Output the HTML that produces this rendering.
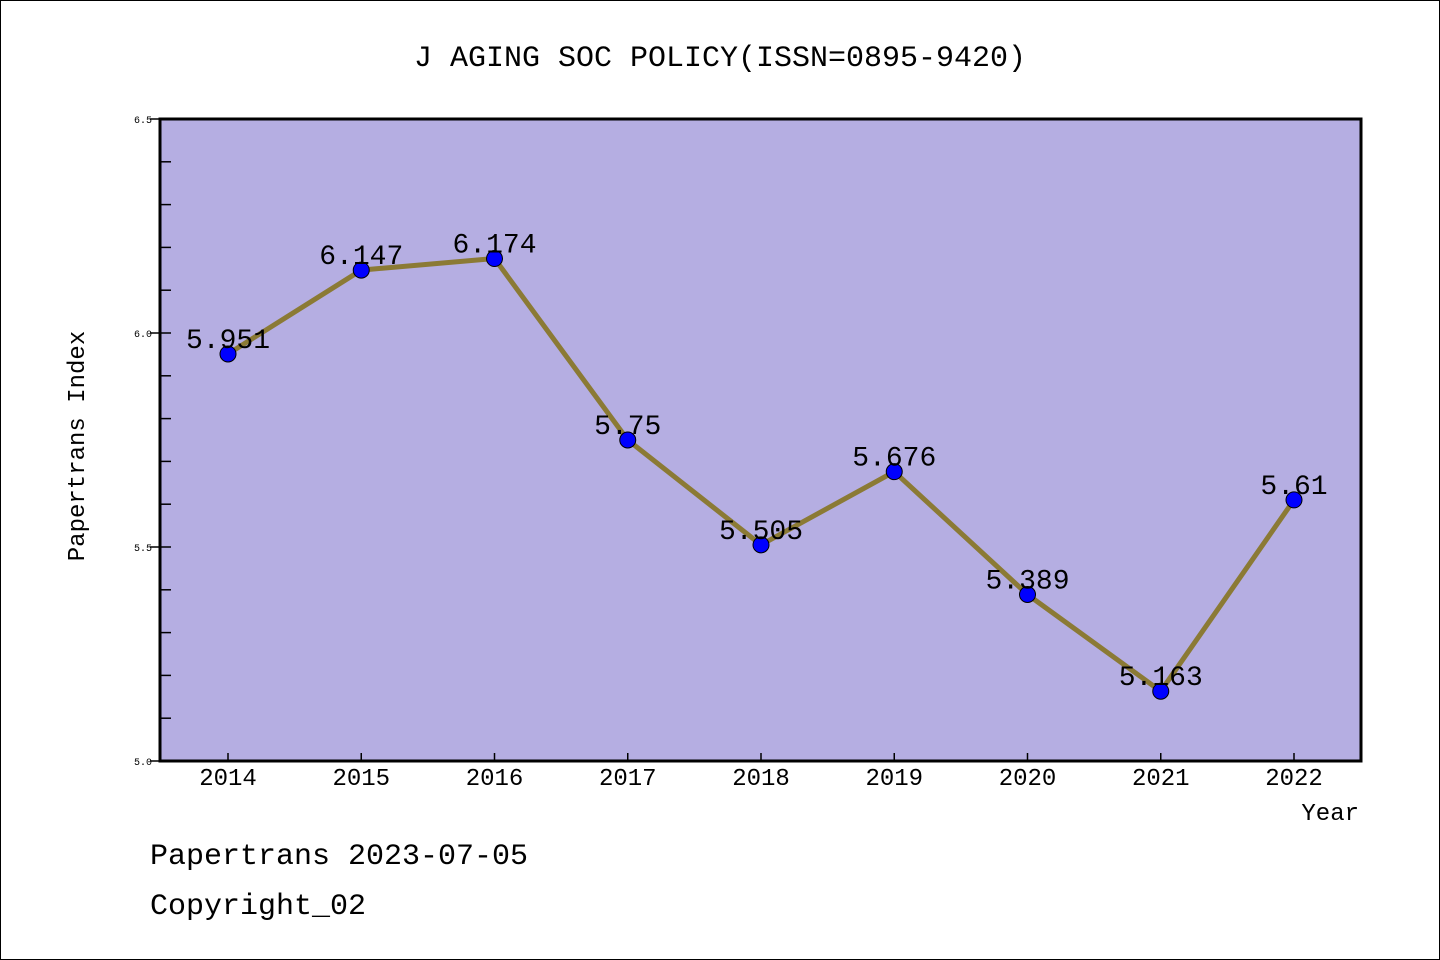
<!DOCTYPE html>
<html><head><meta charset="utf-8"><style>
body{margin:0;background:#fff}
svg{display:block}
text{font-family:"Liberation Mono","Noto Sans CJK SC",monospace}
</style></head><body>
<svg id="chart" width="1440" height="960" xmlns="http://www.w3.org/2000/svg">
<rect x="0.5" y="0.5" width="1439" height="959" fill="#fff" stroke="#000"/>
<text x="720" y="66" font-size="30" text-anchor="middle">J AGING SOC POLICY(ISSN=0895-9420)</text>
<rect x="160" y="119" width="1201" height="642" fill="#b5aee2"/>
<g id="yticks"></g><g id="xticks"></g>
<rect x="160" y="119" width="1201" height="642" fill="none" stroke="#000" stroke-width="3"/>
<g id="series"></g>
<text transform="translate(84,446) rotate(-90)" font-size="24" text-anchor="middle">Papertrans Index</text>
<text x="1359" y="820" font-size="24" text-anchor="end">Year</text>
<text x="150" y="864" font-size="30">Papertrans 2023-07-05</text>
<text x="150" y="914" font-size="30">Copyright_02</text>
</svg>
<script>
const years = ["2014","2015","2016","2017","2018","2019","2020","2021","2022"];
const values = [5.951,6.147,6.174,5.75,5.505,5.676,5.389,5.163,5.61];
const labels = ["5.951","6.147","6.174","5.75","5.505","5.676","5.389","5.163","5.61"];
const yTickLabels = ["5.0","5.5","6.0","6.5"];
const NS="http://www.w3.org/2000/svg";
const x0=160,x1=1361,y0=761,y1=119,ymin=5,ymax=6.5;
const xs=i=>228+i*(1294-228)/(years.length-1);
const ys=v=>y0-(v-ymin)/(ymax-ymin)*(y0-y1);
function mk(t,a,p){const e=document.createElementNS(NS,t);for(const k in a)e.setAttribute(k,a[k]);p.appendChild(e);return e;}
const yt=document.getElementById('yticks');
for(let k=0;k<=15;k++){const v=5+k*0.1;const y=ys(v);const major=k%5===0;
 const l=mk('line',{x1:major?150:160,x2:171,y1:y,y2:y,stroke:'#000','stroke-width':1.5},yt);
 
 }
yTickLabels.forEach(s=>{const t=mk('text',{x:152,y:ys(+s)+4,'font-size':10,'text-anchor':'end'},yt);t.textContent=s;
 
 });
const xt=document.getElementById('xticks');
years.forEach((yr,i)=>{const l=mk('line',{x1:xs(i),x2:xs(i),y1:761,y2:753,stroke:'#000','stroke-width':1.5},xt);
 
 
 const t=mk('text',{x:xs(i),y:785,'font-size':24,'text-anchor':'middle'},xt);t.textContent=yr;
 
 });
const sg=document.getElementById('series');
const pl=mk('polyline',{points:values.map((v,i)=>xs(i)+','+ys(v)).join(' '),fill:'none',stroke:'#8b7a35','stroke-width':5},sg);


values.forEach((v,i)=>{const c=mk('circle',{cx:xs(i),cy:ys(v),r:8,fill:'#0000ff',stroke:'#000','stroke-width':1},sg);
 
 
 const t=mk('text',{x:xs(i),y:ys(v)-6,'font-size':28,'text-anchor':'middle'},sg);t.textContent=labels[i];
 
 });
</script>
</body></html>
